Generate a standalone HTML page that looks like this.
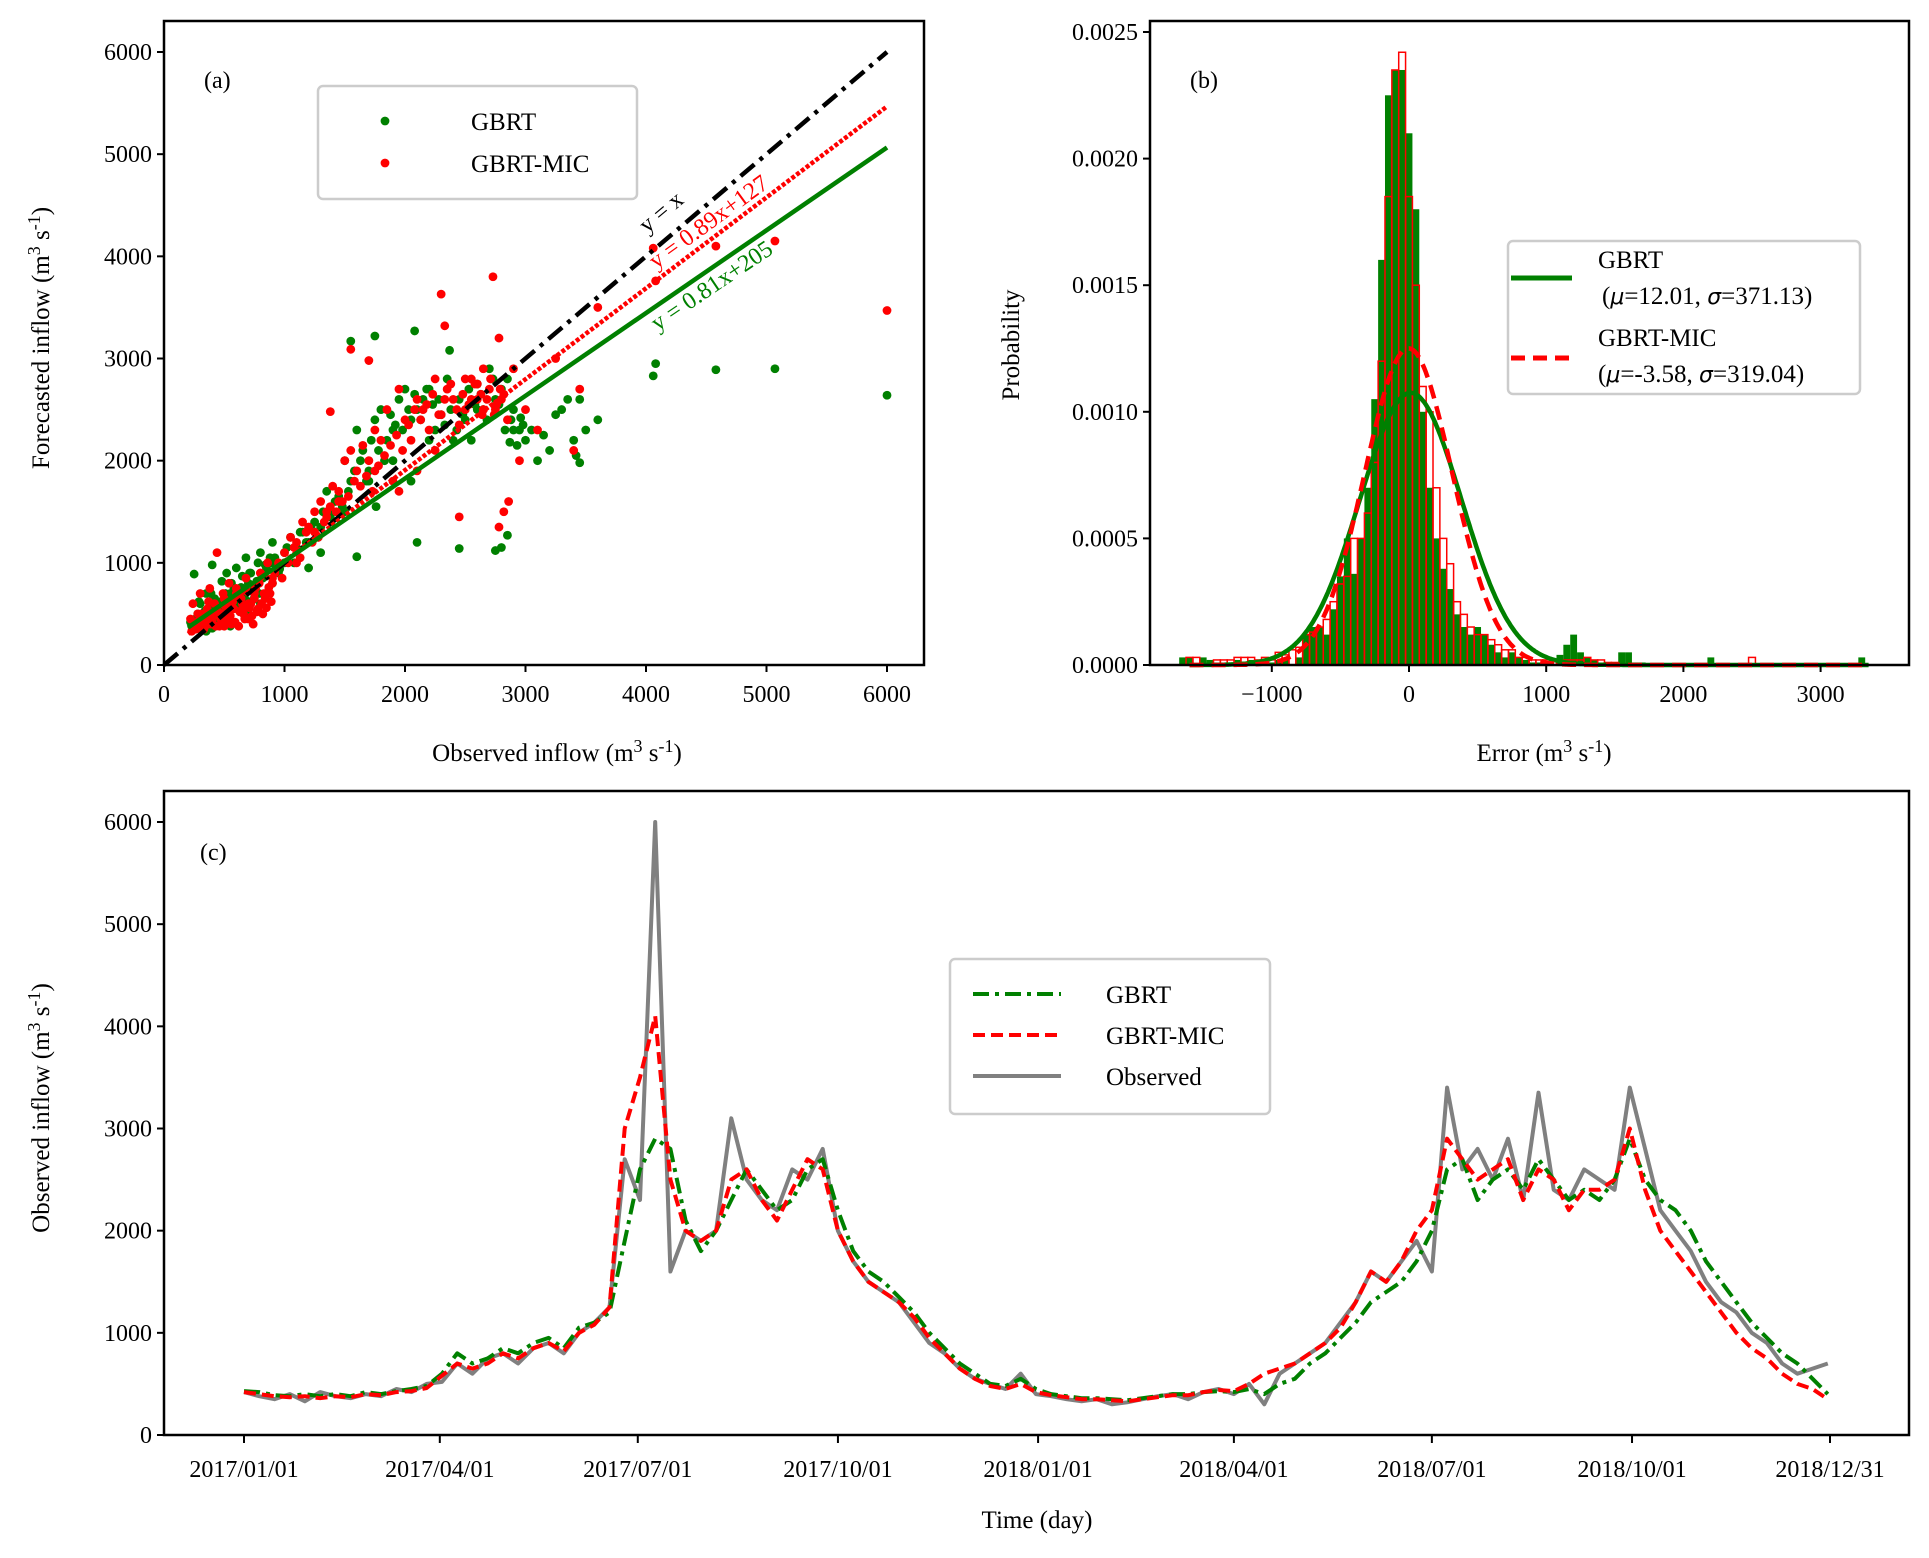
<!DOCTYPE html>
<html><head><meta charset="utf-8"><style>
html,body{margin:0;padding:0;background:#fff}
svg text{font-family:"Liberation Serif",serif;fill:#000}
</style></head><body>
<svg id="fig" width="1929" height="1553" viewBox="0 0 1929 1553" xmlns="http://www.w3.org/2000/svg">
<g id="pa"></g>
<g id="pb"></g>
<g id="pc"></g>
</svg>
<script>
// ---------- Panel (a) data ----------
const gX=[220,250,280,300,320,350,380,400,420,450,480,500,520,550,580,600,620,650,680,700,720,750,780,800,820,850,880,900,950,1000,1050,1100,1150,1200,1250,1300,1350,1400,1450,1500,1550,1600,1650,1700,1750,1800,1850,1900,1950,2000,2050,2100,2150,2200,2250,2300,2350,2400,2450,2500,2550,2600,2650,2700,2750,2800,2850,2900,2950,3000,3100,3200,3300,3400,3450,3600,2800,2750,2850,2450,2100,1550,1750,2080,2370,4060,4080,4580,5070,6000,300,450,600,750,900,1000,1200,1300,1500,1700,1900,2200,2600,2900,3250,3420,1600,1760,2050,700,550,650,800,400,350,
230,260,290,310,340,370,390,410,440,470,490,510,530,560,590,610,640,670,690,710,740,770,790,810,840,870,890,920,960,1020,1080,1130,1180,1220,1280,1320,1380,1420,1480,1530,1580,1630,1680,1720,1780,1830,1880,1920,1980,2030,2080,2130,2180,2230,2280,2330,2380,2430,2480,2530,2580,2630,2680,2730,2780,2830,2880,2930,2980,3050,3150,3350,3500,3450,2960,2870];
const gY=[420,890,500,600,450,700,550,980,650,560,820,600,900,700,750,950,680,870,1050,800,900,750,1000,1100,850,950,1050,1200,900,1100,1250,1150,1300,1200,1400,1350,1700,1500,1650,2000,1800,2300,2100,1900,2400,2500,2200,2300,2600,2700,2400,2500,2600,2700,2300,2450,2800,2200,2600,2400,2200,2750,2500,2900,2600,2700,2800,2500,2300,2200,2000,2100,2500,2200,2600,2400,1150,1120,1270,1140,1200,3170,3220,3270,3080,2830,2950,2890,2900,2640,350,400,650,700,800,1000,950,1100,1500,1800,2000,2200,2500,2300,2450,2050,1060,1550,1800,500,380,520,600,360,330,
380,450,620,420,530,480,700,520,450,620,560,700,480,800,620,550,760,650,720,900,640,820,700,880,980,760,1000,1050,940,1150,1000,1300,1200,1350,1250,1500,1450,1600,1550,1700,1900,2000,1800,2200,2100,2000,2450,2350,2300,2500,2650,2400,2700,2550,2600,2350,2500,2300,2450,2700,2550,2650,2400,2800,2550,2300,2400,2150,2350,2300,2250,2600,2300,1980,2420,2180];
const rX=[220,240,260,280,300,320,340,360,380,400,420,440,460,480,500,520,540,560,580,600,620,640,660,680,700,720,740,760,780,800,820,840,860,880,900,950,1000,1050,1100,1150,1200,1250,1300,1350,1400,1450,1500,1550,1600,1650,1700,1750,1800,1850,1900,1950,2000,2050,2100,2150,2200,2250,2300,2350,2400,2450,2500,2550,2600,2650,2700,2750,2800,2850,2900,3000,3100,3250,3400,3450,3600,4060,4080,4580,5070,6000,2300,2730,2330,2780,1550,1700,1380,2450,2780,2820,2860,450,600,700,800,500,650,750,300,900,1100,1250,1350,1450,1750,1950,2100,2250,2500,2650,2950,
230,250,270,290,310,330,350,370,390,410,430,450,470,490,510,530,550,570,590,610,630,650,670,690,710,730,750,770,790,810,830,850,870,890,920,980,1030,1080,1130,1180,1230,1280,1330,1380,1430,1480,1530,1580,1630,1680,1730,1780,1830,1880,1930,1980,2030,2080,2130,2180,2230,2280,2330,2380,2430,2480,2530,2580,2630,2680,2710,2740,2760,2790,2820,2640,2600,2550];
const rY=[450,600,350,500,700,400,380,550,750,420,600,1100,380,500,650,450,800,400,550,700,380,650,500,850,450,600,400,750,550,900,500,650,1000,700,850,1000,1100,1250,1200,1400,1350,1500,1600,1450,1750,1700,2000,2100,1900,2150,2000,2300,2200,2500,1800,2700,2400,2200,2600,2500,2300,2800,2450,2700,2600,2350,2500,2800,2600,2900,2700,2500,2600,2400,2900,2500,2300,3000,2100,2700,3500,4080,3760,4100,4150,3470,3630,3800,3320,3200,3090,2980,2480,1450,1350,1500,1600,500,750,600,900,380,550,700,350,800,1000,1300,1500,1600,1900,1700,1900,2100,2800,2500,2000,
330,380,420,360,500,350,450,620,400,480,380,520,450,700,400,560,480,620,420,680,520,600,450,720,560,480,650,520,800,600,700,560,760,620,900,850,1000,1150,1050,1300,1200,1250,1400,1550,1500,1600,1650,1800,1750,1850,1700,1950,2050,2150,2250,2100,2350,2500,2400,2550,2650,2450,2600,2750,2500,2650,2550,2750,2650,2600,2800,2450,2550,2700,2650,2450,2750,2600];
const fitSlope=[1,0.89,0.81];
const fitIntercept=[0,127,205];
const aTicks=[0,1000,2000,3000,4000,5000,6000];

// ---------- Panel (b) data ----------
const binStart=-1650, binWidth=50;
const histGBRT=[0.3,0.3,0,0.3,0.2,0,0,0,0.2,0,0.2,0,0,0.1, 0.2,0.2,0,0.3,
1.2,1.5,1.5,1.2,2.2, 3.5,5,3.6,5,7, 10.5,16,22.5,23.5,23.5, 21,18,10,7,5, 3.8,3,2,1.5,1.2, 1.5,1.2,0.8,0.5,0.3, 0.5,0.3,0.2,0.1,0.1, 0.1,0,0.4,0.8,1.2, 0.5,0.3,0.2,0,0.1, 0,0.5,0.5,0.1,0.1,
0.05,0.05,0.05,0.05,0.05,0.05,0.05,0.05,0.05,0.3,0.05,0.05,0.05,0.05,0.05,0.05,0.05,0.05,0.05,0.05,0.05,0.05,0.05,0.05,0.05,0.05,0.05,0.05,0.05,0.05,0.05,0.3];
const histMIC=[0,0.3,0.3,0,0,0.2,0.2,0.2,0.3,0.3,0.3,0.2,0.3,0.2, 0.5,0.4,0.6,0.7,
1.2,1.3,1.5,1.8,2.5, 3.2,3.5,5,5,6, 8,12,18.5,23.5,24.2, 18.5,15,11,10,7, 5,4,2.5,2,1.5, 1.2,1.2,1,0.8,0.6, 0.6,0.3,0.3,0.2,0.2, 0.2,0.2,0.1,0.2,0.2, 0.2,0.3,0.2,0.2,0.1, 0.1,0,0,0,0,
0.05,0.05,0.05,0.05,0.05,0.05,0.05,0.05,0.05,0.05,0.05,0.05,0.05,0.05,0.05,0.3,0.05,0.05,0.05,0.05,0.05,0.05,0.05,0.05,0.05,0.05,0.05,0.05,0.05,0.05,0.05,0.05];
const fitMu=[12.01,-3.58];
const fitSigma=[371.13,319.04];
const bXTicks=[-1000,0,1000,2000,3000];
const bYTicks=["0.0000","0.0005","0.0010","0.0015","0.0020","0.0025"];

// ---------- Panel (c) data (weekly) ----------
const obs=[420,380,350,400,330,420,380,360,400,380,450,420,500,520,700,600,750,800,700,850,900,800,1000,1100,1250,2700,2300,6000,1600,2000,1900,2000,3100,2500,2300,2200,2600,2500,2800,2000,1700,1500,1400,1300,1100,900,800,650,550,500,450,600,400,
380,350,330,350,300,320,350,380,400,350,420,450,400,500,300,600,700,800,900,1100,1300,1600,1500,1700,1900,1600,3400,2600,2800,2500,2900,2300,3350,2400,2300,2600,2500,2400,3400,2800,2200,2000,1800,1500,1300,1200,1000,900,700,600,650,700];
const gbrt=[430,420,390,380,400,380,400,380,420,400,430,450,480,600,800,700,750,850,800,900,950,850,1050,1100,1200,1900,2600,2900,2800,2100,1800,2000,2300,2600,2400,2200,2300,2600,2700,2200,1800,1600,1500,1350,1200,1000,850,700,600,500,480,550,450,
400,380,360,360,350,340,360,380,400,400,420,430,420,450,400,500,550,700,800,950,1100,1300,1400,1500,1700,2000,2600,2700,2300,2500,2600,2400,2700,2500,2300,2400,2300,2500,2900,2500,2300,2200,2000,1700,1500,1300,1100,950,800,700,550,400];
const mic=[420,400,380,370,380,360,380,370,400,390,420,430,460,580,700,650,700,800,750,850,900,820,1000,1080,1250,3000,3500,4100,2500,2000,1900,2000,2500,2600,2300,2100,2400,2700,2600,2000,1700,1500,1400,1300,1150,950,800,650,550,480,450,500,420,
390,370,350,350,340,330,350,370,390,390,420,440,430,500,600,650,700,800,900,1050,1300,1600,1500,1700,2000,2200,2900,2700,2500,2600,2700,2300,2600,2500,2200,2400,2400,2500,3000,2400,2000,1800,1600,1400,1200,1000,850,750,600,500,450,350];
const dateLabels=["2017/01/01","2017/04/01","2017/07/01","2017/10/01","2018/01/01","2018/04/01","2018/07/01","2018/10/01","2018/12/31"];
const dateDays=[0,90,181,273,365,455,546,638,729];
const cYTicks=[0,1000,2000,3000,4000,5000,6000];

const NS="http://www.w3.org/2000/svg";
function mk(parent,tag,attrs,text){const e=document.createElementNS(NS,tag);for(const k in attrs)e.setAttribute(k,attrs[k]);if(text!==undefined)e.textContent=text;parent.appendChild(e);return e;}

// ===== Panel A =====
(function(){
const g=document.getElementById('pa');
const L=164,R=924,T=21,B=665;
const sx=v=>164+v*(887-164)/6000, sy=v=>665-v*(665-52)/6000;
for(let i=0;i<Math.min(gX.length,gY.length);i++){
 const c=mk(g,'circle',{cx:sx(gX[i]),cy:sy(gY[i]),r:4.4,fill:'#008000'});
 
 
}
for(let i=0;i<Math.min(rX.length,rY.length);i++){
 const c=mk(g,'circle',{cx:sx(rX[i]),cy:sy(rY[i]),r:4.4,fill:'#ff0000'});
 
 
}
const styles=[{s:'#000',d:'18 7 4 7',w:4.5,x0:0,n:'line-y-equals-x'},{s:'#ff0000',d:'4 2',w:4.5,x0:200,n:'fit-line-gbrt-mic'},{s:'#008000',d:'',w:4.5,x0:200,n:'fit-line-gbrt'}];
styles.forEach((st,k)=>{
 const x1=6000;
 const l=mk(g,'line',{x1:sx(st.x0),y1:sy(fitSlope[k]*st.x0+fitIntercept[k]),x2:sx(x1),y2:sy(fitSlope[k]*x1+fitIntercept[k]),stroke:st.s,'stroke-width':st.w,'stroke-dasharray':st.d});
 
 
});
mk(g,'text',{x:0,y:0,'font-size':24,transform:'translate(666,218) rotate(-40)','text-anchor':'middle',},'y = x');
mk(g,'text',{x:0,y:0,'font-size':24,style:'fill:#ff0000',transform:'translate(713,228) rotate(-36)','text-anchor':'middle',},'y = 0.89x+127');
mk(g,'text',{x:0,y:0,'font-size':24,style:'fill:#008000',transform:'translate(716,292) rotate(-34)','text-anchor':'middle',},'y = 0.81x+205');
mk(g,'rect',{x:L,y:T,width:R-L,height:B-T,fill:'none',stroke:'#000','stroke-width':2.5,});
aTicks.forEach(v=>{
 mk(g,'line',{x1:sx(v),y1:B,x2:sx(v),y2:B+7,stroke:'#000','stroke-width':2});
 const t=mk(g,'text',{x:sx(v),y:B+37,'font-size':24,'text-anchor':'middle'},String(v));
 
 
 mk(g,'line',{x1:L-7,y1:sy(v),x2:L,y2:sy(v),stroke:'#000','stroke-width':2});
 const t2=mk(g,'text',{x:L-12,y:sy(v)+8,'font-size':24,'text-anchor':'end'},String(v));
 
 
});
mk(g,'text',{x:557,y:761,'font-size':25,'text-anchor':'middle',}).innerHTML='Observed inflow (m<tspan dy="-9" font-size="18">3</tspan><tspan dy="9"> s</tspan><tspan dy="-9" font-size="18">-1</tspan><tspan dy="9">)</tspan>';
mk(g,'text',{x:0,y:0,'font-size':25,'text-anchor':'middle',transform:'translate(49,338) rotate(-90)',}).innerHTML='Forecasted inflow (m<tspan dy="-9" font-size="18">3</tspan><tspan dy="9"> s</tspan><tspan dy="-9" font-size="18">-1</tspan><tspan dy="9">)</tspan>';
mk(g,'text',{x:204,y:88,'font-size':24,},'(a)');
mk(g,'rect',{x:318,y:86,width:319,height:113,rx:5,fill:'#fff',stroke:'#ccc','stroke-width':2.5,});
mk(g,'circle',{cx:385,cy:121,r:4.4,fill:'#008000',});
mk(g,'text',{x:471,y:130,'font-size':25,},'GBRT');
mk(g,'circle',{cx:385,cy:163,r:4.4,fill:'#ff0000',});
mk(g,'text',{x:471,y:172,'font-size':25,},'GBRT-MIC');
})();

// ===== Panel B =====
(function(){
const g=document.getElementById('pb');
const L=1150,R=1909,T=21,B=665;
const sx=v=>1409+v*0.1372, sy=v=>665-v*(665-32)/0.0025;
histGBRT.forEach((v,i)=>{
 if(v<=0)return;
 const x0=binStart+i*binWidth-binWidth/2;
 const r=mk(g,'rect',{x:sx(x0),y:sy(v*1e-4),width:binWidth*0.1372,height:B-sy(v*1e-4),fill:'#008000'});
 
 
});
histMIC.forEach((v,i)=>{
 if(v<=0)return;
 const x0=binStart+i*binWidth-binWidth/2;
 const r=mk(g,'rect',{x:sx(x0),y:sy(v*1e-4),width:binWidth*0.1372,height:B-sy(v*1e-4),fill:'none',stroke:'#ff0000','stroke-width':1.5});
 
 
});
const cols=['#008000','#ff0000'], dashes=['','14 8'];
fitMu.forEach((mu,k)=>{
 const s=fitSigma[k];let d='';
 for(let x=-1600;x<=3350;x+=10){const p=Math.exp(-0.5*((x-mu)/s)**2)/(s*Math.sqrt(2*Math.PI));d+=(d?'L':'M')+sx(x).toFixed(1)+','+sy(p).toFixed(1);}
 const p=mk(g,'path',{d:d,fill:'none',stroke:cols[k],'stroke-width':4.5,'stroke-dasharray':dashes[k]});
 
 
});
mk(g,'rect',{x:L,y:T,width:R-L,height:B-T,fill:'none',stroke:'#000','stroke-width':2.5,});
bXTicks.forEach(v=>{
 mk(g,'line',{x1:sx(v),y1:B,x2:sx(v),y2:B+7,stroke:'#000','stroke-width':2});
 const t=mk(g,'text',{x:sx(v),y:B+37,'font-size':24,'text-anchor':'middle'},v<0?'\u2212'+(-v):String(v));
 
 
});
bYTicks.forEach(lbl=>{
 const v=parseFloat(lbl);
 mk(g,'line',{x1:L-7,y1:sy(v),x2:L,y2:sy(v),stroke:'#000','stroke-width':2});
 const t=mk(g,'text',{x:L-12,y:sy(v)+8,'font-size':24,'text-anchor':'end'},lbl);
 
 
});
mk(g,'text',{x:1544,y:761,'font-size':25,'text-anchor':'middle',}).innerHTML='Error (m<tspan dy="-9" font-size="18">3</tspan><tspan dy="9"> s</tspan><tspan dy="-9" font-size="18">-1</tspan><tspan dy="9">)</tspan>';
mk(g,'text',{x:0,y:0,'font-size':25,'text-anchor':'middle',transform:'translate(1019,345) rotate(-90)',},'Probability');
mk(g,'text',{x:1190,y:88,'font-size':24,},'(b)');
mk(g,'rect',{x:1508,y:241,width:352,height:153,rx:5,fill:'#fff',stroke:'#ccc','stroke-width':2.5,});
mk(g,'line',{x1:1511,y1:278,x2:1572,y2:278,stroke:'#008000','stroke-width':5});
mk(g,'text',{x:1598,y:268,'font-size':25,},'GBRT');
mk(g,'text',{x:1602,y:304,'font-size':25,}).innerHTML='(<tspan font-style="italic" font-family="DejaVu Sans" font-size="22">μ</tspan>=12.01, <tspan font-style="italic" font-family="DejaVu Sans" font-size="22">σ</tspan>=371.13)';
mk(g,'line',{x1:1511,y1:358,x2:1572,y2:358,stroke:'#ff0000','stroke-width':5,'stroke-dasharray':'14 8'});
mk(g,'text',{x:1598,y:346,'font-size':25,},'GBRT-MIC');
mk(g,'text',{x:1598,y:382,'font-size':25,}).innerHTML='(<tspan font-style="italic" font-family="DejaVu Sans" font-size="22">μ</tspan>=-3.58, <tspan font-style="italic" font-family="DejaVu Sans" font-size="22">σ</tspan>=319.04)';
})();

// ===== Panel C =====
(function(){
const g=document.getElementById('pc');
const L=164,R=1909,T=791,B=1435;
const sx=d=>244+d*(1830-244)/729, sy=v=>1435-v*(1435-822)/6000;
const series=[{a:obs,c:'#808080',d:'',n:'line-observed'},{a:gbrt,c:'#008000',d:'16 6 4 6',n:'line-gbrt'},{a:mic,c:'#ff0000',d:'12 6',n:'line-gbrt-mic'}];
series.forEach(s=>{
 let d='';
 s.a.forEach((v,i)=>{const day=Math.min(i*7,729);d+=(d?'L':'M')+sx(day).toFixed(1)+','+sy(v).toFixed(1);});
 const p=mk(g,'path',{d:d,fill:'none',stroke:s.c,'stroke-width':4,'stroke-dasharray':s.d,'stroke-linejoin':'round'});
 
 
});
mk(g,'rect',{x:L,y:T,width:R-L,height:B-T,fill:'none',stroke:'#000','stroke-width':2.5,});
cYTicks.forEach(v=>{
 mk(g,'line',{x1:L-7,y1:sy(v),x2:L,y2:sy(v),stroke:'#000','stroke-width':2});
 const t=mk(g,'text',{x:L-12,y:sy(v)+8,'font-size':24,'text-anchor':'end'},String(v));
 
 
});
dateDays.forEach((d,i)=>{
 mk(g,'line',{x1:sx(d),y1:B,x2:sx(d),y2:B+8,stroke:'#000','stroke-width':2});
 const t=mk(g,'text',{x:sx(d),y:B+42,'font-size':24,'text-anchor':'middle'},dateLabels[i]);
 
 
});
mk(g,'text',{x:1037,y:1528,'font-size':25,'text-anchor':'middle',},'Time (day)');
mk(g,'text',{x:0,y:0,'font-size':25,'text-anchor':'middle',transform:'translate(49,1108) rotate(-90)',}).innerHTML='Observed inflow (m<tspan dy="-9" font-size="18">3</tspan><tspan dy="9"> s</tspan><tspan dy="-9" font-size="18">-1</tspan><tspan dy="9">)</tspan>';
mk(g,'text',{x:200,y:860,'font-size':24,},'(c)');
mk(g,'rect',{x:950,y:959,width:320,height:155,rx:5,fill:'#fff',stroke:'#ccc','stroke-width':2.5,});
mk(g,'line',{x1:973,y1:994,x2:1061,y2:994,stroke:'#008000','stroke-width':4,'stroke-dasharray':'16 6 4 6'});
mk(g,'text',{x:1106,y:1003,'font-size':25,},'GBRT');
mk(g,'line',{x1:973,y1:1035,x2:1061,y2:1035,stroke:'#ff0000','stroke-width':4,'stroke-dasharray':'12 6'});
mk(g,'text',{x:1106,y:1044,'font-size':25,},'GBRT-MIC');
mk(g,'line',{x1:973,y1:1076,x2:1061,y2:1076,stroke:'#808080','stroke-width':4});
mk(g,'text',{x:1106,y:1085,'font-size':25,},'Observed');
})();
</script>
</body></html>
